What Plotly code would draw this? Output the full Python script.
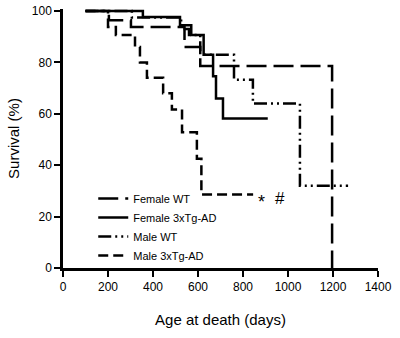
import plotly.graph_objects as go

# Kaplan-Meier step data (day, survival %)
female_wt_days = [100, 204, 302, 540, 610, 1196, 1196]
female_wt_surv = [100, 96.4, 93.8, 86.0, 78.6, 78.6, 0]

female_tg_days = [100, 355, 520, 570, 625, 667, 680, 711, 910]
female_tg_surv = [100, 97.7, 94.5, 90.7, 83.0, 74.6, 66.0, 58.2, 58.2]

male_wt_days = [100, 306, 525, 560, 610, 760, 844, 1053, 1267]
male_wt_surv = [100, 97.5, 93.0, 90.7, 83.0, 73.3, 64.0, 32.0, 32.0]

male_tg_days = [100, 200, 235, 320, 342, 373, 445, 484, 529, 595, 615, 845]
male_tg_surv = [100, 93.8, 90.7, 86.0, 80.0, 74.0, 68.0, 61.7, 52.8, 42.5, 28.6, 28.6]

x_ticks = [0, 200, 400, 600, 800, 1000, 1200, 1400]
y_ticks = [0, 20, 40, 60, 80, 100]

FONT = "Arial, Liberation Sans, sans-serif"

fig = go.Figure()
series = [
    ("Female WT", female_wt_days, female_wt_surv, "20px,7px"),
    ("Female 3xTg-AD", female_tg_days, female_tg_surv, "solid"),
    ("Male WT", male_wt_days, male_wt_surv, "13px,4px,2px,4px,2px,4px"),
    ("Male 3xTg-AD", male_tg_days, male_tg_surv, "10px,5px"),
]
for name, xs, ys, dash in series:
    fig.add_trace(go.Scatter(
        x=xs, y=ys, mode="lines", name=name,
        line=dict(color="black", width=2.5, dash=dash, shape="hv"),
    ))

fig.add_annotation(x=884, y=25.5, text="*", showarrow=False,
                   font=dict(family=FONT, size=18, color="black"))
fig.add_annotation(x=964, y=27, text="#", showarrow=False,
                   font=dict(family=FONT, size=17, color="black"))

fig.update_layout(
    width=400, height=338,
    margin=dict(l=63, r=22, t=9, b=70),
    paper_bgcolor="white", plot_bgcolor="white",
    font=dict(family=FONT, color="black", size=12),
    showlegend=True,
    legend=dict(x=0.096, y=0.324, xanchor="left", yanchor="top",
                bgcolor="rgba(0,0,0,0)", font=dict(size=11),
                tracegroupgap=0),
    xaxis=dict(range=[0, 1400], tickvals=x_ticks, showgrid=False, zeroline=False,
               showline=True, linecolor="black", linewidth=2.5,
               ticks="outside", ticklen=6, tickwidth=2, tickcolor="black",
               tickfont=dict(size=12), automargin=False,
               title=dict(text="Age at death (days)", font=dict(size=15), standoff=22)),
    yaxis=dict(range=[0, 100.8], tickvals=y_ticks, showgrid=False, zeroline=False,
               showline=True, linecolor="black", linewidth=2.5,
               ticks="outside", ticklen=6, tickwidth=2, tickcolor="black",
               tickfont=dict(size=12), automargin=False,
               title=dict(text="Survival (%)", font=dict(size=15), standoff=9)),
)

fig.write_html("out.html", config={"displayModeBar": False},
               post_script="document.body.style.margin='0';document.body.style.overflow='hidden';")
